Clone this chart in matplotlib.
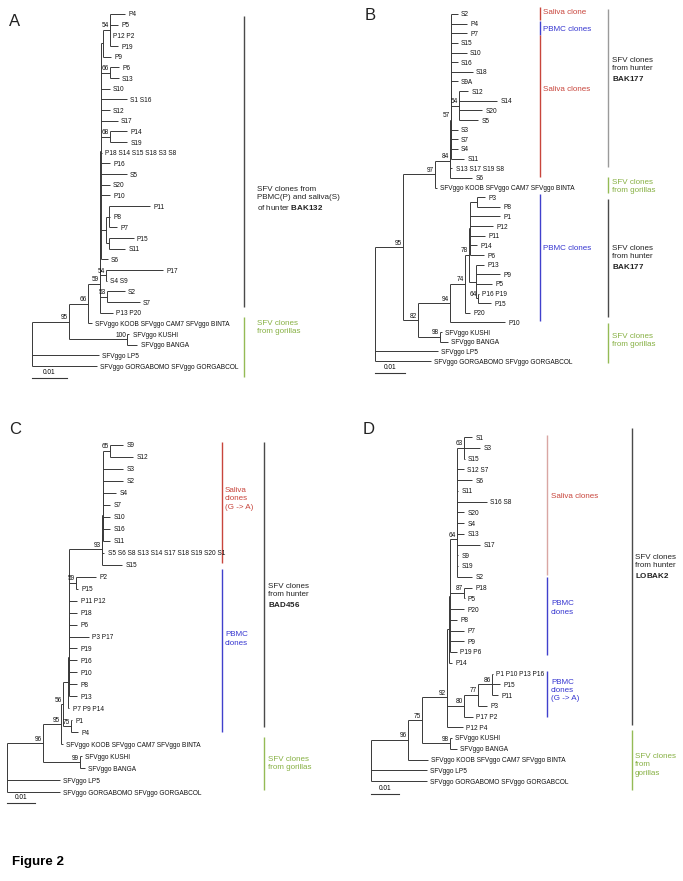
import matplotlib
matplotlib.use("Agg")
import matplotlib.pyplot as plt

# trees in Newick, branch lengths in units of 0.001 substitutions/site,
# internal node labels are bootstrap values
TREE_A = ("(((((((((P4:4.3,P5:2.3,P12 P2:0.1,P19:2.3)54:2.0,P9:2.3):0.6,(P6:2.6,S13:2.6)66:2.6,"
          "S10:2.6,S1 S16:7.4,S12:2.6,S17:4.9,(P14:4.9,S19:4.9)68:2.6,P18 S14 S15 S18 S3 S8:0.4,"
          "P16:2.6,S5:7.4,S20:2.6,P10:2.6,((P11:11.7,P8:0.3,P7:2.3):1.1,(P15:6.9,S11:4.6):1.1):1.4,"
          "S6:2.0):0.1,(P17:16.3,S4 S9:0.3)54:1.6):0.1,(S2:5.1,S7:9.4)53:2.0):0.1,P13 P20:3.7)59:3.3,"
          "SFVggo KOOB SFVggo CAM7 SFVggo BINTA:1.1)66:5.4,(SFVggo KUSHI:0.6,SFVggo BANGA:2.9)100:16.6)95:10.6,"
          "SFVggo LP5:19.1,SFVggo GORGABOMO SFVggo GORGABCOL:18.6);")

TREE_B = ("(((((((S2:2.3,P4:5.3,P7:5.3,S15:2.3,S10:5.3,S16:2.3,S18:7.3,S9A:2.3,"
          "(S12:3.0,S14:12.7,S20:7.7,S5:6.3)54:2.7,S3:2.3,S7:2.3,S4:2.3):0.1,S11:4.5)57:0.1,"
          "S13 S17 S19 S8:0.7):0.1,S6:7.3)84:5.0,SFVggo KOOB SFVggo CAM7 SFVggo BINTA:0.7)97:10.7,"
          "((((((P3:2.7,P8:7.7):2.3,P1:10.0,P12:7.7,P11:5.0,P14:2.3,P6:4.7):0.3,"
          "(P13:2.7,P9:8.0,P5:5.3,(P16 P19:0.3,P15:4.3)64:0.7):2.3)78:1.3,P20:1.7)74:5.0,P10:18.3)94:10.7,"
          "(SFVggo KUSHI:0.7,SFVggo BANGA:2.7)98:7.3)82:5.0)95:9.3,"
          "SFVggo LP5:21.0,SFVggo GORGABOMO SFVggo GORGABCOL:18.7);")

TREE_C = ("((((((((((((S9:4.6,S12:8.2)65:2.5,S3:7.1,S2:7.1,S4:4.6,S7:2.5,S10:2.5,S16:2.5):0.1,"
          "S11:2.6):0.1,S5 S6 S8 S13 S14 S17 S18 S19 S20 S1:0.7):0.1,S15:7.1)93:11.8,"
          "(P2:7.1,P15:0.7)59:2.5,P11 P12:2.9,P18:2.9,P6:2.9,P3 P17:7.1,P19:2.9,P16:2.9,P10:2.9,"
          "P8:2.9):0.2,P13:3.0):0.2,P7 P9 P14:0.5):1.8,(P1:0.4,P4:2.5)75:2.9)56:0.7,"
          "SFVggo KOOB SFVggo CAM7 SFVggo BINTA:0.7)95:6.4,(SFVggo KUSHI:0.7,SFVggo BANGA:1.8)99:13.2)96:12.9,"
          "SFVggo LP5:18.9,SFVggo GORGABOMO SFVggo GORGABCOL:18.9);")

TREE_D = ("((((((((((S1:2.9,S3:5.7,S15:0.2)63:2.4,S12 S7:2.4,S6:5.3,S11:0.3,S16 S8:10.6,S20:2.4,"
          "S4:2.4,S13:2.4,S17:8.1,S9:0.3):0.1,S19:0.4,S2:5.4)64:2.5,(P18:2.9,P5:0.2)87:5.0,P20:5.0,"
          "P8:2.5,P7:5.0,P9:5.0,P19 P6:2.5):0.4,P14:1.1):0.5,(((P1 P10 P13 P16:0.2,P15:2.9,P11:2.1)86:5.0,"
          "P3:3.2)77:5.0,P17 P2:3.2)80:5.9):0.2,P12 P4:5.7)92:8.9,"
          "(SFVggo KUSHI:0.7,SFVggo BANGA:2.5)98:10.0)75:5.0,SFVggo KOOB SFVggo CAM7 SFVggo BINTA:7.1)96:13.2,"
          "SFVggo LP5:20.0,SFVggo GORGABOMO SFVggo GORGABCOL:20.0);")

SCALE_LEN = 10  # 0.01
SCALE_LABEL = "0.01"

# clade bars: (first leaf, last leaf, label y, text, kind, column) in leaf-row units
CLADES_A = [
    (0.2, 27.5, 17.3, "SFV clones from\nPBMC(P) and saliva(S)\nof hunter $\\mathbf{BAK132}$", "hunter", "outer"),
    (28.4, 34.0, 29.4, "SFV clones\nfrom gorillas", "gorilla", "outer"),
]
CLADES_B = [
    (-0.73, 0.62, -0.2, "Saliva clone", "saliva", "inner"),
    (0.73, 2.18, 1.56, "PBMC clones", "pbmc", "inner"),
    (2.18, 16.9, 7.8, "Saliva clones", "saliva", "inner"),
    (18.67, 31.85, 24.3, "PBMC clones", "pbmc", "inner"),
    (-0.52, 15.87, 5.8, "SFV clones\nfrom hunter\n$\\mathbf{BAK177}$", "hunter_light", "outer"),
    (16.9, 18.57, 17.9, "SFV clones\nfrom gorillas", "gorilla", "outer"),
    (19.2, 31.4, 25.3, "SFV clones\nfrom hunter\n$\\mathbf{BAK177}$", "hunter", "outer"),
    (32.05, 36.2, 33.9, "SFV clones\nfrom gorillas", "gorilla", "outer"),
]
CLADES_C = [
    (-0.25, 9.86, 4.5, "Saliva\nclones\n(G -> A)", "saliva", "inner"),
    (10.36, 23.98, 16.2, "PBMC\nclones", "pbmc", "inner"),
    (-0.25, 23.6, 12.6, "SFV clones\nfrom hunter\n$\\mathbf{BAD456}$", "hunter", "outer"),
    (24.4, 28.8, 26.6, "SFV clones\nfrom gorillas", "gorilla", "outer"),
]
CLADES_D = [
    (-0.19, 12.84, 5.5, "Saliva clones", "saliva_pale", "inner"),
    (13.0, 20.3, 15.9, "PBMC\nclones", "pbmc", "inner"),
    (21.8, 26.0, 23.6, "PBMC\nclones\n(G -> A)", "pbmc", "inner"),
    (-0.84, 26.8, 12.1, "SFV clones\nfrom hunter\n$\\mathbf{LOBAK2}$", "hunter", "outer"),
    (27.3, 32.8, 30.5, "SFV clones\nfrom\ngorillas", "gorilla", "outer"),
]

KIND_STYLE = {
    "saliva": ("#c8453c", "#c8453c"),
    "saliva_pale": ("#d9a6a3", "#c8453c"),
    "pbmc": ("#4040cc", "#3535d0"),
    "hunter": ("#4a4a4a", "#222222"),
    "hunter_light": ("#9a9a9a", "#222222"),
    "gorilla": ("#94bb55", "#86b042"),
}

plt.rcParams["font.family"] = ["Liberation Sans", "DejaVu Sans"]
plt.rcParams["mathtext.fontset"] = "custom"
plt.rcParams["mathtext.rm"] = "Liberation Sans"
plt.rcParams["mathtext.bf"] = "Liberation Sans:bold"

W, H = 683, 881
LINE = "#383838"
LW = 0.7
LEAF_FS = 4.7
LABEL_FS = 5.8


def parse_newick(text):
    text = text.strip().rstrip(";")
    pos = 0

    def read_node():
        nonlocal pos
        node = {"children": [], "name": "", "length": 0.0}
        if text[pos] == "(":
            pos += 1
            while True:
                node["children"].append(read_node())
                ch = text[pos]
                pos += 1
                if ch == ")":
                    break
        start = pos
        while pos < len(text) and text[pos] not in ":,)":
            pos += 1
        node["name"] = text[start:pos].strip()
        if pos < len(text) and text[pos] == ":":
            pos += 1
            start = pos
            while pos < len(text) and text[pos] not in ",)":
                pos += 1
            node["length"] = float(text[start:pos])
        return node

    return read_node()


def place(node, x0, leaves):
    node["x"] = x0 + node["length"]
    if node["children"]:
        for c in node["children"]:
            place(c, node["x"], leaves)
        node["y"] = (node["children"][0]["y"] + node["children"][-1]["y"]) / 2
    else:
        node["y"] = len(leaves)
        leaves.append(node)


def draw_node(ax, node):
    kids = node["children"]
    if not kids:
        ax.annotate(node["name"], (node["x"], node["y"]), xytext=(2.4, 0),
                    textcoords="offset points", ha="left", va="center_baseline",
                    fontsize=LEAF_FS, color="#111111")
        return
    x = node["x"]
    ax.plot([x, x], [kids[0]["y"], kids[-1]["y"]], color=LINE, lw=LW,
            solid_capstyle="butt")
    for c in kids:
        ax.plot([x, c["x"]], [c["y"], c["y"]], color=LINE, lw=LW,
                solid_capstyle="butt")
        draw_node(ax, c)
    if node["name"]:
        ax.annotate(node["name"], (x, node["y"]), xytext=(-0.6, 0.4),
                    textcoords="offset points", ha="right", va="bottom",
                    fontsize=LEAF_FS, color="#111111")


# panel layout in pixels: box (left, top, width, height), root x, px per unit,
# first leaf row y, row step, letter position, scale-bar row, bar columns
PANELS = [
    dict(letter="A", tree=TREE_A, clades=CLADES_A, box=(0, 0, 340, 420), root=32, ppu=3.5,
         y0=14, dy=10.67, pos=(9, 21), bar=34.1, inner=(None, None), outer=(244, 257)),
    dict(letter="B", tree=TREE_B, clades=CLADES_B, box=(340, 0, 343, 420), root=375, ppu=3.0,
         y0=14, dy=9.64, pos=(365, 16), bar=37.2, inner=(540, 543), outer=(608, 612)),
    dict(letter="C", tree=TREE_C, clades=CLADES_C, box=(0, 420, 340, 420), root=7, ppu=2.8,
         y0=445, dy=11.97, pos=(9, 430), bar=29.9, inner=(222, 225), outer=(264, 268)),
    dict(letter="D", tree=TREE_D, clades=CLADES_D, box=(340, 420, 343, 420), root=371, ppu=2.8,
         y0=437, dy=10.75, pos=(363, 430), bar=33.2, inner=(547, 551), outer=(632, 635)),
]

fig = plt.figure(figsize=(W / 100, H / 100), dpi=100)

for p in PANELS:
    l, t, w, h = p["box"]
    ax = fig.add_axes([l / W, 1 - (t + h) / H, w / W, h / H])
    ax.set_xlim((l - p["root"]) / p["ppu"], (l + w - p["root"]) / p["ppu"])
    ax.set_ylim((t + h - p["y0"]) / p["dy"], (t - p["y0"]) / p["dy"])
    ax.axis("off")

    root = parse_newick(p["tree"])
    leaves = []
    place(root, 0.0, leaves)
    draw_node(ax, root)

    # scale bar
    ax.plot([0, SCALE_LEN], [p["bar"], p["bar"]], color=LINE, lw=0.8)
    ax.annotate(SCALE_LABEL, (SCALE_LEN / 2, p["bar"]), xytext=(0, 1.2),
                textcoords="offset points", ha="center", va="bottom", fontsize=LEAF_FS)

    # clade bars
    for v0, v1, vt, label, kind, col in p["clades"]:
        lx, tx = p[col]
        lx = (lx - p["root"]) / p["ppu"]
        tx = (tx - p["root"]) / p["ppu"]
        line_c, text_c = KIND_STYLE[kind]
        ax.plot([lx, lx], [v0, v1], color=line_c, lw=1.0, solid_capstyle="butt")
        ax.text(tx, vt, label, color=text_c, ha="left", va="center",
                fontsize=LABEL_FS, linespacing=1.25)

    fig.text(p["pos"][0] / W, 1 - p["pos"][1] / H, p["letter"], fontsize=12,
             ha="left", va="center", color="#222222")

fig.text(12 / W, 1 - 862 / H, "Figure 2", fontsize=9.6, fontweight="bold",
         ha="left", va="center")

fig.savefig("out.png", dpi=100, facecolor="white")
